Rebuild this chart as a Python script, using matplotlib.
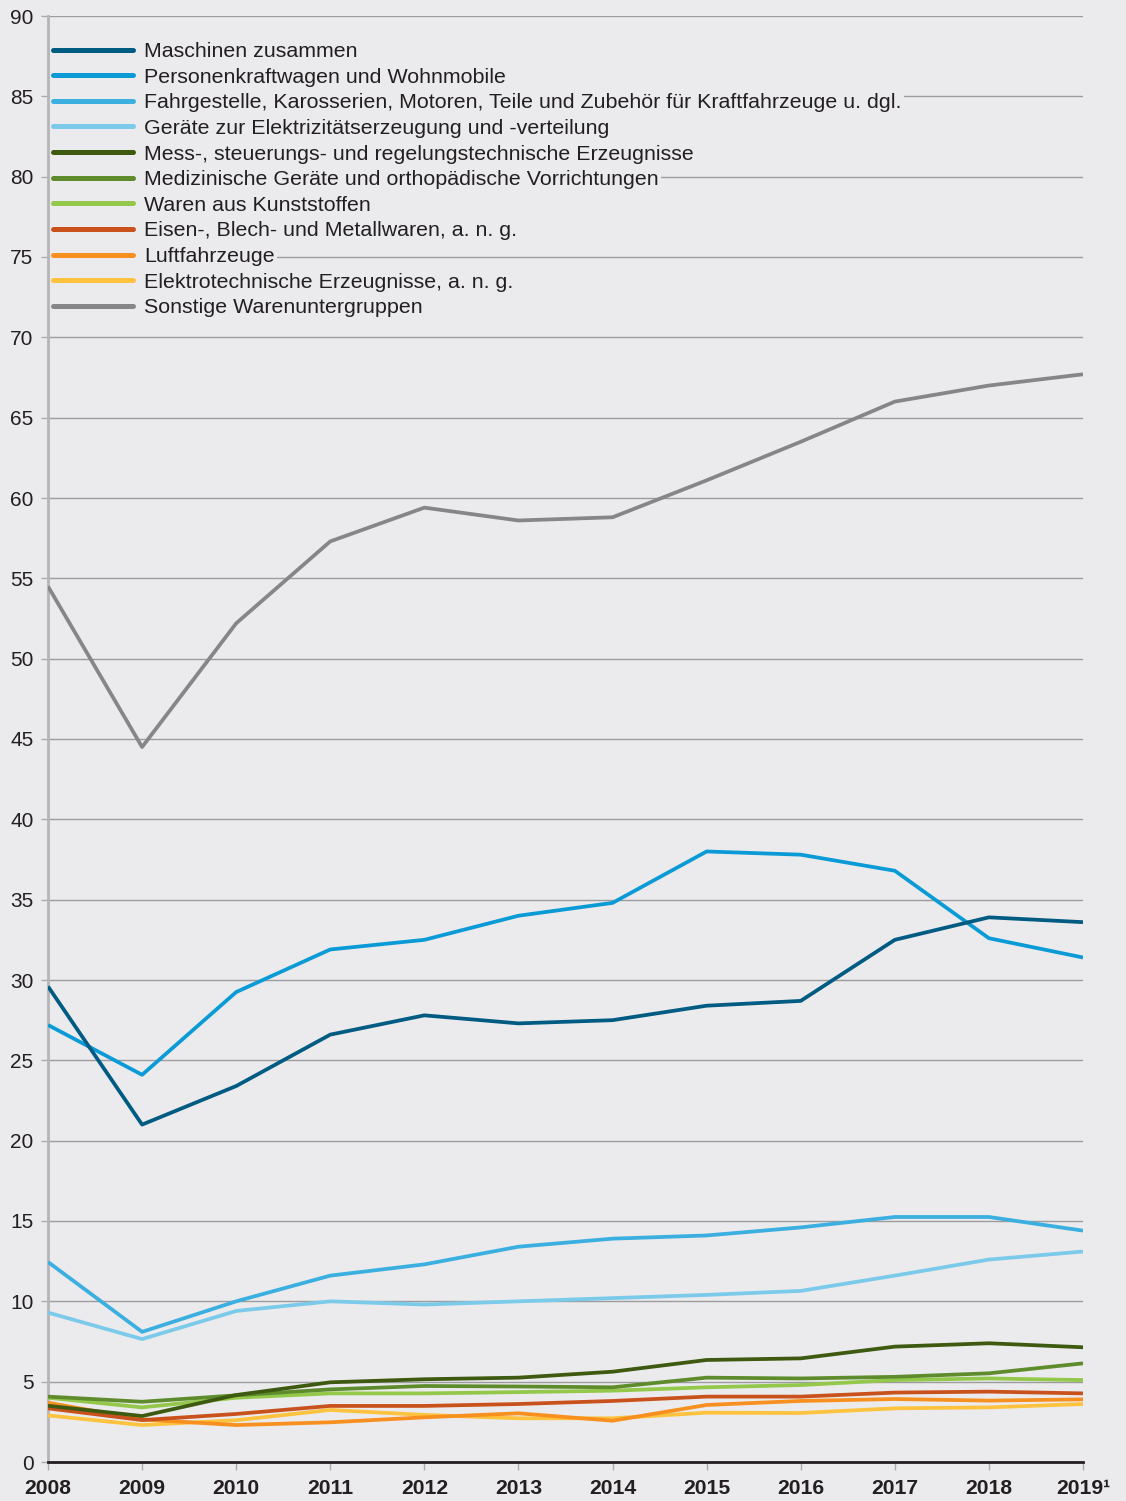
import matplotlib
matplotlib.use("Agg")
import matplotlib.pyplot as plt
from matplotlib.patches import Rectangle

plt.rcParams['font.family'] = ['Liberation Sans', 'DejaVu Sans']

years = [2008, 2009, 2010, 2011, 2012, 2013, 2014, 2015, 2016, 2017, 2018, 2019]
year_labels = ['2008', '2009', '2010', '2011', '2012', '2013', '2014', '2015',
               '2016', '2017', '2018', '2019¹']

maschinen = [29.6, 21.0, 23.4, 26.6, 27.8, 27.3, 27.5, 28.4, 28.7, 32.5, 33.9, 33.6]
pkw = [27.2, 24.1, 29.25, 31.9, 32.5, 34.0, 34.8, 38.0, 37.8, 36.8, 32.6, 31.4]
fahrgestelle = [12.45, 8.1, 10.0, 11.6, 12.3, 13.4, 13.9, 14.1, 14.6, 15.25, 15.25, 14.4]
elektrizitaet = [9.3, 7.65, 9.4, 10.0, 9.8, 10.0, 10.2, 10.4, 10.65, 11.6, 12.6, 13.1]
mess = [3.5, 2.86, 4.17, 4.96, 5.15, 5.25, 5.62, 6.35, 6.45, 7.18, 7.39, 7.14]
medizin = [4.07, 3.75, 4.15, 4.52, 4.73, 4.7, 4.65, 5.25, 5.2, 5.3, 5.52, 6.14]
kunststoff = [4.0, 3.4, 4.0, 4.27, 4.27, 4.35, 4.44, 4.65, 4.79, 5.1, 5.2, 5.1]
eisen = [3.34, 2.61, 2.99, 3.49, 3.49, 3.61, 3.8, 4.07, 4.07, 4.32, 4.38, 4.27]
luftfahrzeuge = [3.69, 2.65, 2.3, 2.47, 2.78, 3.03, 2.57, 3.55, 3.8, 3.92, 3.82, 3.9]
elektrotechnik = [2.9, 2.3, 2.6, 3.24, 2.93, 2.72, 2.72, 3.07, 3.05, 3.34, 3.4, 3.61]
sonstige = [54.5, 44.5, 52.2, 57.3, 59.4, 58.6, 58.8, 61.1, 63.5, 66.0, 67.0, 67.7]

series_names = [
    'Maschinen zusammen',
    'Personenkraftwagen und Wohnmobile',
    'Fahrgestelle, Karosserien, Motoren, Teile und Zubehör für Kraftfahrzeuge u. dgl.',
    'Geräte zur Elektrizitätserzeugung und -verteilung',
    'Mess-, steuerungs- und regelungstechnische Erzeugnisse',
    'Medizinische Geräte und orthopädische Vorrichtungen',
    'Waren aus Kunststoffen',
    'Eisen-, Blech- und Metallwaren, a. n. g.',
    'Luftfahrzeuge',
    'Elektrotechnische Erzeugnisse, a. n. g.',
    'Sonstige Warenuntergruppen',
]
series_values = [maschinen, pkw, fahrgestelle, elektrizitaet, mess, medizin,
                 kunststoff, eisen, luftfahrzeuge, elektrotechnik, sonstige]
colors = ['#005b82', '#0a9bd7', '#3bafe0', '#7ccaea', '#3d5a10', '#5e8c2c',
          '#93c84a', '#c9521c', '#f7901e', '#fdc23e', '#868689']

bg = '#ebebed'
fig = plt.figure(figsize=(11.26, 15.01), dpi=100, facecolor=bg)
ax = fig.add_axes([48/1126, 39/1501, (1083-48)/1126, (1462-16)/1501])
ax.set_facecolor(bg)

lines = {}
for i in range(len(series_values))[::-1]:
    ln, = ax.plot(years, series_values[i], color=colors[i], lw=2.7,
                  solid_joinstyle='round', solid_capstyle='butt', zorder=3)
    lines[i] = ln

ax.set_xlim(2008, 2019)
ax.set_ylim(0, 90)
ax.set_yticks(range(0, 91, 5))
ax.set_xticks(years)
ax.set_xticklabels(year_labels, fontweight='bold', fontsize=15.2, color='#231f20')
ax.tick_params(axis='y', labelsize=15, labelcolor='#231f20', length=5, width=1,
               color='#aaaaaa', pad=5.5)
ax.tick_params(axis='x', length=6, width=1, color='#aaaaaa', pad=6)
ax.grid(axis='y', color='#9c9c9e', lw=1, zorder=1)
ax.set_axisbelow(True)
for s in ['top', 'right']:
    ax.spines[s].set_visible(False)
ax.spines['left'].set_color('#b5b5b7')
ax.spines['left'].set_linewidth(2)
ax.spines['bottom'].set_color('#231f20')
ax.spines['bottom'].set_linewidth(2)
ax.spines['bottom'].set_zorder(5)

handles = [lines[i] for i in range(len(series_values))]
leg = ax.legend(handles, series_names, loc='upper left',
                bbox_to_anchor=(5/1035, 0.982), frameon=False, fontsize=15.4,
                handlelength=3.74, handletextpad=0.52, labelspacing=0.31,
                borderaxespad=0.0, borderpad=0.0)
for lh in leg.get_lines():
    lh.set_linewidth(3.6)
    lh.set_solid_capstyle('round')
for t in leg.get_texts():
    t.set_color('#231f20')
    t.set_bbox(dict(facecolor=bg, edgecolor='none', pad=1.5))
ax.add_patch(Rectangle((0.002, 0.79), 0.093, 0.195, transform=ax.transAxes,
                       facecolor=bg, edgecolor='none', zorder=2))

fig.savefig('out.png', dpi=100, facecolor=bg)
